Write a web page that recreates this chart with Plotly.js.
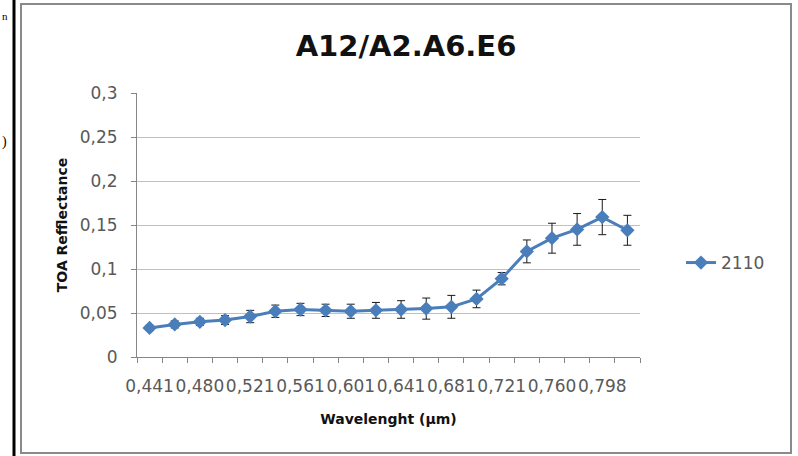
<!DOCTYPE html>
<html>
<head>
<meta charset="utf-8">
<script src="https://cdn.plot.ly/plotly-3.0.1.min.js"></script>
<style>html,body{margin:0;padding:0;background:#fff;}#chart{width:798px;height:456px;}</style>
</head>
<body>
<div id="chart"></div>
<script>
// Wavelength categories (µm) — labelled every other one, as in the original
const wavelengths = ["0,441","0,460","0,480","0,500","0,521","0,541","0,561","0,581","0,601","0,621",
                     "0,641","0,661","0,681","0,701","0,721","0,740","0,760","0,779","0,798","0,818"];
const reflectance2110 = [0.033,0.037,0.040,0.042,0.046,0.052,0.054,0.053,0.052,0.053,
                         0.054,0.055,0.057,0.066,0.089,0.120,0.135,0.145,0.159,0.144];
const error2110 = [0.003,0.004,0.004,0.005,0.007,0.007,0.007,0.007,0.008,0.009,
                   0.010,0.012,0.013,0.010,0.007,0.013,0.017,0.018,0.020,0.017];
const seriesName = "2110";
const yTicks = [0,0.05,0.1,0.15,0.2,0.25,0.3];

const W = 798, H = 456;
const L = 137, R = 640, T = 93, B = 357;
const px = x => (x - L) / (R - L);
const py = y => (B - y) / (B - T);

const idx = wavelengths.map((_, i) => i);
const labelIdx = idx.filter(i => i % 2 === 0);
const boundaries = idx.map(i => i - 0.5).concat([wavelengths.length - 0.5]);

const blue = "#4a7ebb";
const grey = "#595959";

const trace = {
  type: "scatter", mode: "lines+markers", name: seriesName,
  x: idx, y: reflectance2110,
  line: {color: blue, width: 3},
  marker: {symbol: "diamond", size: 11, color: blue},
  error_y: {type: "data", array: error2110, visible: true, color: "#1a1a1a", thickness: 1, width: 4}
};
const dummy = {type: "scatter", x: [0], y: [0], xaxis: "x2", showlegend: false, hoverinfo: "skip",
  mode: "markers", marker: {opacity: 0}};

const layout = {
  width: W, height: H,
  margin: {l: L, r: W - R, t: T, b: H - B, pad: 0},
  paper_bgcolor: "#fff", plot_bgcolor: "#fff",
  separators: ", ",
  font: {family: "DejaVu Sans", size: 17, color: grey},
  title: {text: "<b>A12/A2.A6.E6</b>", font: {family: "DejaVu Sans", size: 29, color: "#111"},
          x: px(406), xref: "paper", xanchor: "center", y: 1 - 46 / H, yanchor: "middle"},
  xaxis: {
    range: [-0.5, wavelengths.length - 0.5], tickmode: "array",
    tickvals: labelIdx, ticktext: labelIdx.map(i => wavelengths[i]), tickangle: 0,
    ticks: "", showgrid: false, zeroline: false, showline: true, linecolor: "#868686", linewidth: 1,
    tickfont: {size: 17, color: grey}, ticklabelstandoff: 14,
    title: {text: "<b>Wavelenght (µm)</b>", font: {size: 14, color: "#111"}, standoff: 18}
  },
  xaxis2: {
    overlaying: "x", range: [-0.5, wavelengths.length - 0.5], tickmode: "array",
    tickvals: boundaries, ticks: "outside", ticklen: 5, tickcolor: "#868686",
    showticklabels: false, showgrid: false, zeroline: false, side: "bottom", anchor: "y"
  },
  yaxis: {
    range: [0, 0.3], tickmode: "array", tickvals: yTicks,
    showgrid: true, gridcolor: "#c0c0c0", gridwidth: 1, zeroline: false,
    showline: true, linecolor: "#868686", ticks: "outside", ticklen: 5, tickcolor: "#868686",
    tickfont: {size: 17, color: grey}, ticklabelstandoff: 10,
    title: {text: "<b>TOA Refflectance</b>", font: {size: 14, color: "#111"}, standoff: 8}
  },
  showlegend: true,
  legend: {x: px(681), y: py(263), xanchor: "left", yanchor: "middle",
           font: {size: 17, color: grey}, bgcolor: "rgba(0,0,0,0)"},
  shapes: [
    {type: "rect", xref: "paper", yref: "paper", x0: px(21), x1: px(791), y0: py(453), y1: py(4),
     line: {color: "#8a8a8a", width: 2}, layer: "below"},
    {type: "line", xref: "paper", yref: "paper", x0: px(14), x1: px(14), y0: py(456), y1: py(0),
     line: {color: "#000", width: 3}}
  ],
  annotations: [
    {text: "n", xref: "paper", yref: "paper", x: px(0), y: py(16), xanchor: "left", yanchor: "middle",
     showarrow: false, font: {family: "Liberation Serif", size: 11, color: "#000"}},
    {text: ")", xref: "paper", yref: "paper", x: px(0), y: py(142), xanchor: "left", yanchor: "middle",
     showarrow: false, font: {family: "Liberation Serif", size: 14, color: "#000"}}
  ]
};

Plotly.newPlot("chart", [trace, dummy], layout, {displayModeBar: false, staticPlot: true});
</script>
</body>
</html>
